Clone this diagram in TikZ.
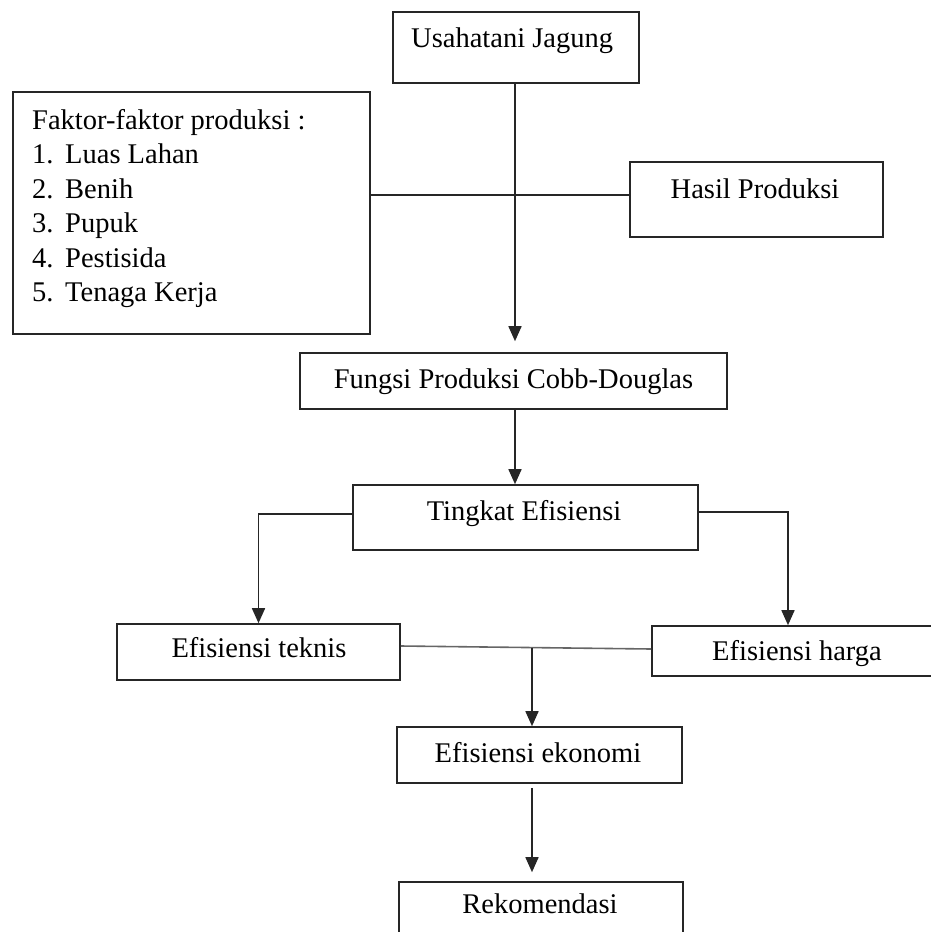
\documentclass[tikz,border=0pt]{standalone}
\usepackage{fontspec}
\setmainfont{Liberation Serif}
\usetikzlibrary{arrows.meta,calc}
\begin{document}
\begin{tikzpicture}[x=1pt,y=-1pt,
  box/.style={draw=black!85, line width=1.6pt, rectangle, inner sep=0pt},
  lbl/.style={inner sep=0pt, anchor=base, font=\fontsize{28.5}{34.5}\selectfont},
  lblw/.style={lbl, anchor=base west},
  conn/.style={draw=black!85, line width=1.6pt},
  arr/.style={conn, -{Triangle[width=13pt,length=15pt]}}]
\useasboundingbox (0,0) rectangle (931,932);
\clip (0,0) rectangle (931,932);
% boxes
\node[box, minimum width=246pt, minimum height=71pt] (usaha) at (516,47.5) {};
\node[box, minimum width=357pt, minimum height=242pt] (faktor) at (191.5,213) {};
\node[box, minimum width=253pt, minimum height=75pt] (hasil) at (756.5,199.5) {};
\node[box, minimum width=427pt, minimum height=56pt] (cobb) at (513.5,381) {};
\node[box, minimum width=345pt, minimum height=65pt] (tingkat) at (525.5,517.5) {};
\node[box, minimum width=283pt, minimum height=56pt] (teknis) at (258.5,652) {};
\node[box, minimum width=290pt, minimum height=50pt] (harga) at (797,651) {};
\node[box, minimum width=285pt, minimum height=56pt] (ekonomi) at (539.5,755) {};
\node[box, minimum width=284pt, minimum height=58pt] (rekom) at (541,911) {};
% texts
\node[lblw] (tusaha) at (411,47) {Usahatani Jagung};
\node[lblw] (tf0) at (32,129) {Faktor-faktor produksi :};
\node[lblw] (tn1) at (32,163.5) {1.};
\node[lblw] (tf1) at (65,163.5) {Luas Lahan};
\node[lblw] (tn2) at (32,198) {2.};
\node[lblw] (tf2) at (65,198) {Benih};
\node[lblw] (tn3) at (32,232.5) {3.};
\node[lblw] (tf3) at (65,232.5) {Pupuk};
\node[lblw] (tn4) at (32,267) {4.};
\node[lblw] (tf4) at (65,267) {Pestisida};
\node[lblw] (tn5) at (32,301.5) {5.};
\node[lblw] (tf5) at (65,301.5) {Tenaga Kerja};
\node[lbl] (thasil) at (755,198) {Hasil Produksi};
\node[lbl] (tcobb) at (513.5,388) {Fungsi Produksi Cobb-Douglas};
\node[lbl] (ttingkat) at (524,520) {Tingkat Efisiensi};
\node[lbl] (tteknis) at (259,657) {Efisiensi teknis};
\node[lbl] (tharga) at (797,660) {Efisiensi harga};
\node[lbl] (tekonomi) at (538,762) {Efisiensi ekonomi};
\node[lbl] (trekom) at (540,913) {Rekomendasi};
% helper coordinates
\coordinate (cobbtip) at ($(cobb.north)+(1.5,-11)$);
\coordinate (h195) at (0,195);
\coordinate (tl) at (0,514);
\coordinate (tr) at (0,512);
\coordinate (hx) at (788,0);
\coordinate (ml) at (0,646);
\coordinate (mr) at (0,649);
\coordinate (j) at (532,647.5);
% connectors
\draw[arr] (usaha.south -| cobbtip) -- (cobbtip);
\draw[conn] (faktor.east |- h195) -- (hasil.west |- h195);
\draw[arr] (cobb.south -| cobbtip) -- (tingkat.north -| cobbtip);
\draw[arr] (tingkat.west |- tl) -| (teknis.north);
\draw[arr] (tingkat.east |- tr) -| (harga.north -| hx);
\draw[conn, draw=black!60] (teknis.east |- ml) -- (harga.west |- mr);
\draw[arr] (j) -- (j |- ekonomi.north);
\draw[arr] ($(ekonomi.south -| j)+(0,4)$) -- ($(rekom.north -| j)+(0,-9)$);
\end{tikzpicture}
\end{document}
